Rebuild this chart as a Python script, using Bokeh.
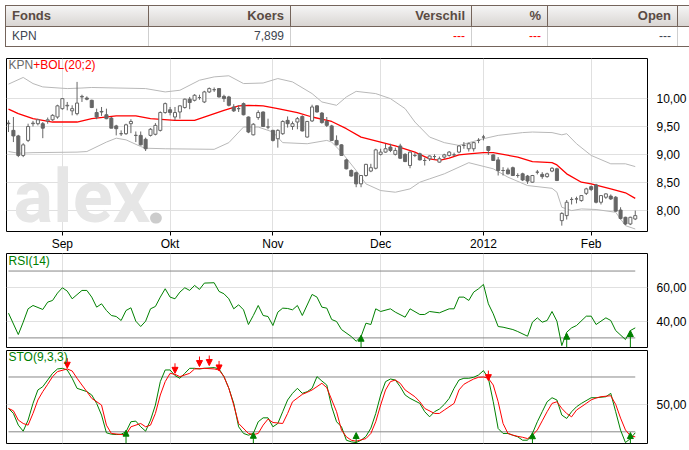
from bokeh.plotting import figure
from bokeh.models import (Range1d, FixedTicker, CustomJSTickFormatter, Label, Arrow,
                          NormalHead, ColumnDataSource, Div)
from bokeh.core.properties import value
from bokeh.layouts import column
from bokeh.embed import file_html
from bokeh.resources import INLINE

# ---------------- data ----------------
stock = "KPN"
koers = "7,899"
table_headers = ["Fonds", "Koers", "Verschil", "%", "Open"]

month_idx = [11, 33, 54, 76, 97, 119]
month_labels = ["Sep", "Okt", "Nov", "Dec", "2012", "Feb"]
price_ticks = [8.0, 8.5, 9.0, 9.5, 10.0]
rsi_ticks = [40, 60]
sto_ticks = [50]
rsi_levels = [30, 70]
sto_levels = [20, 80]

opens = [9.56, 9.43, 9.33, 8.98, 9.25, 9.55, 9.55, 9.55, 9.60, 9.62,
         9.67, 9.82, 9.87, 9.78, 9.73, 10.03, 10.01, 9.97, 9.75, 9.77,
         9.71, 9.65, 9.51, 9.37, 9.37, 9.55, 9.34, 9.34, 9.27, 9.34,
         9.36, 9.43, 9.75, 9.80, 9.67, 9.76, 9.84, 9.99, 9.97, 10.02,
         9.94, 10.12, 10.16, 10.18, 10.04, 10.03, 9.85, 9.82, 9.91, 9.67,
         9.35, 9.66, 9.76, 9.49, 9.43, 9.28, 9.37, 9.61, 9.50, 9.58,
         9.68, 9.31, 9.60, 9.87, 9.74, 9.59, 9.51, 9.25, 9.17, 8.90,
         8.71, 8.67, 8.47, 8.62, 8.70, 8.75, 9.00, 9.04, 9.13, 9.00,
         9.15, 9.00, 8.80, 8.98, 9.01, 8.89, 8.92, 8.96, 8.86, 8.95,
         8.98, 8.99, 9.04, 9.16, 9.10, 9.10, 9.25, 9.31, 9.14, 8.99,
         8.90, 8.71, 8.72, 8.76, 8.62, 8.65, 8.61, 8.50, 8.68, 8.64,
         8.60, 8.70, 8.74, 7.81, 7.90, 8.19, 8.20, 8.17, 8.30, 8.42,
         8.45, 8.14, 8.23, 8.25, 8.23, 8.00, 7.87, 7.75, 7.84]
highs = [9.61, 9.67, 9.35, 9.20, 9.55, 9.60, 9.64, 9.58, 9.66, 9.72,
         9.89, 10.01, 9.94, 9.88, 10.30, 10.07, 10.04, 9.98, 9.82, 9.85,
         9.82, 9.67, 9.53, 9.43, 9.55, 9.63, 9.41, 9.41, 9.30, 9.47,
         9.56, 9.77, 9.93, 9.85, 9.85, 9.88, 10.00, 10.03, 10.08, 10.07,
         10.14, 10.20, 10.20, 10.19, 10.07, 10.05, 9.90, 9.88, 9.93, 9.68,
         9.56, 9.79, 9.77, 9.64, 9.44, 9.45, 9.61, 9.68, 9.59, 9.67,
         9.70, 9.60, 9.89, 9.88, 9.76, 9.67, 9.53, 9.34, 9.18, 8.92,
         8.73, 8.69, 8.62, 8.83, 8.83, 9.10, 9.10, 9.19, 9.19, 9.12,
         9.19, 9.02, 9.05, 9.03, 9.03, 8.94, 8.98, 9.00, 8.96, 9.01,
         9.06, 9.03, 9.16, 9.22, 9.21, 9.22, 9.29, 9.35, 9.15, 9.00,
         8.95, 8.77, 8.76, 8.78, 8.66, 8.67, 8.63, 8.63, 8.72, 8.68,
         8.67, 8.77, 8.76, 7.96, 8.18, 8.23, 8.24, 8.27, 8.40, 8.44,
         8.47, 8.27, 8.30, 8.28, 8.25, 8.05, 7.88, 7.88, 7.99]
lows = [9.40, 9.22, 8.95, 8.95, 9.22, 9.50, 9.52, 9.29, 9.55, 9.60,
        9.64, 9.80, 9.79, 9.70, 9.70, 9.94, 9.97, 9.83, 9.63, 9.69,
        9.63, 9.47, 9.34, 9.33, 9.35, 9.38, 9.22, 9.16, 9.06, 9.32,
        9.34, 9.41, 9.73, 9.70, 9.61, 9.64, 9.82, 9.81, 9.95, 9.98,
        9.92, 10.10, 10.12, 10.02, 9.94, 9.86, 9.76, 9.76, 9.70, 9.38,
        9.34, 9.62, 9.49, 9.45, 9.23, 9.12, 9.35, 9.48, 9.44, 9.45,
        9.41, 9.30, 9.58, 9.75, 9.55, 9.49, 9.24, 9.16, 8.97, 8.73,
        8.60, 8.41, 8.41, 8.60, 8.68, 8.73, 8.98, 9.03, 9.04, 8.98,
        8.92, 8.86, 8.75, 8.95, 8.89, 8.80, 8.88, 8.90, 8.85, 8.92,
        8.96, 8.96, 9.02, 9.10, 9.05, 9.05, 9.20, 9.25, 8.99, 8.88,
        8.62, 8.62, 8.64, 8.61, 8.58, 8.52, 8.47, 8.49, 8.64, 8.56,
        8.58, 8.68, 8.52, 7.72, 7.83, 8.10, 8.12, 8.15, 8.27, 8.34,
        8.12, 8.10, 8.20, 8.18, 7.97, 7.83, 7.73, 7.73, 7.82]
closes = [9.55, 9.33, 8.98, 9.17, 9.50, 9.56, 9.62, 9.47, 9.62, 9.70,
          9.87, 10.00, 9.88, 9.82, 9.92, 10.04, 9.99, 9.84, 9.67, 9.76,
          9.64, 9.47, 9.46, 9.37, 9.53, 9.59, 9.34, 9.17, 9.10, 9.45,
          9.52, 9.75, 9.91, 9.75, 9.75, 9.87, 9.99, 9.93, 10.06, 10.02,
          10.12, 10.18, 10.16, 10.03, 10.00, 9.88, 9.78, 9.82, 9.71, 9.40,
          9.54, 9.75, 9.50, 9.49, 9.25, 9.43, 9.59, 9.55, 9.55, 9.64,
          9.42, 9.59, 9.85, 9.76, 9.57, 9.52, 9.25, 9.17, 8.98, 8.74,
          8.61, 8.47, 8.62, 8.82, 8.76, 9.08, 9.04, 9.10, 9.07, 9.07,
          8.93, 8.87, 9.04, 8.98, 8.90, 8.89, 8.97, 8.96, 8.92, 8.99,
          9.04, 8.99, 9.15, 9.16, 9.19, 9.21, 9.25, 9.31, 9.07, 8.89,
          8.71, 8.71, 8.65, 8.62, 8.62, 8.54, 8.52, 8.62, 8.68, 8.60,
          8.65, 8.75, 8.53, 7.94, 8.14, 8.19, 8.20, 8.26, 8.38, 8.37,
          8.14, 8.26, 8.29, 8.20, 7.98, 7.85, 7.75, 7.87, 7.90]

bol_up_x = [0, 3, 5, 7, 12, 15, 17, 28, 32, 35, 39, 42, 45, 48, 52, 55, 58, 62, 64, 67,
            69, 71, 75, 78, 81, 83, 86, 89, 92, 97, 100, 105, 107, 111, 113, 114, 116,
            119, 123, 126, 128]
bol_up = [10.26, 10.38, 10.27, 10.21, 10.18, 10.19, 10.20, 10.18, 10.12, 10.15, 10.33,
          10.39, 10.41, 10.27, 10.28, 10.36, 10.30, 10.09, 9.94, 9.88, 10.03, 10.13, 10.09,
          10.00, 9.82, 9.58, 9.31, 9.21, 9.16, 9.28, 9.34, 9.39, 9.40, 9.39, 9.35, 9.37,
          9.19, 8.98, 8.83, 8.83, 8.78]
bol_lo_x = [0, 2, 5, 14, 16, 20, 22, 24, 27, 28, 32, 42, 45, 48, 51, 54, 56, 61, 65, 66,
            68, 71, 73, 76, 79, 82, 84, 86, 89, 92, 94, 99, 102, 106, 111, 112, 113, 115,
            117, 120, 124, 125, 126, 128]
bol_lo = [9.05, 9.02, 9.03, 9.04, 9.05, 9.22, 9.29, 9.26, 9.14, 9.11, 9.10, 9.09, 9.21,
          9.49, 9.49, 9.40, 9.21, 9.19, 9.25, 9.22, 9.04, 8.71, 8.47, 8.35, 8.32, 8.38,
          8.50, 8.56, 8.65, 8.77, 8.85, 8.74, 8.59, 8.44, 8.39, 8.32, 8.05, 7.99, 8.02,
          8.01, 7.96, 7.84, 7.72, 7.66]
bol_mid_x = [0, 2, 5, 9, 14, 17, 22, 26, 29, 34, 38, 41, 44, 47, 49, 52, 55, 59, 62, 66,
             69, 72, 76, 79, 83, 86, 88, 90, 92, 94, 97, 99, 104, 107, 111, 112, 114, 117,
             119, 123, 126, 128]
bol_mid = [9.81, 9.73, 9.64, 9.58, 9.58, 9.64, 9.69, 9.69, 9.64, 9.61, 9.61, 9.70, 9.79,
           9.87, 9.88, 9.87, 9.82, 9.75, 9.67, 9.59, 9.46, 9.31, 9.22, 9.15, 9.04, 8.92,
           8.89, 8.93, 8.99, 9.01, 9.03, 9.03, 8.95, 8.87, 8.85, 8.81, 8.65, 8.50, 8.47,
           8.38, 8.31, 8.21]

rsi_x = [0, 2, 3, 4, 5, 7, 8, 9, 10, 11, 12, 13, 15, 16, 17, 18, 19, 20, 21, 22, 23, 24,
         25, 26, 27, 28, 29, 30, 31, 32, 33, 34, 35, 36, 37, 38, 39, 40, 42, 43, 44, 45,
         46, 47, 48, 49, 50, 51, 52, 53, 54, 55, 56, 57, 58, 59, 60, 62, 63, 64, 65, 66,
         67, 68, 70, 71, 72, 73, 74, 75, 76, 78, 79, 81, 82, 84, 85, 86, 88, 90, 91, 92,
         93, 94, 95, 96, 97, 98, 99, 100, 101, 103, 104, 106, 107, 108, 109, 110, 111,
         112, 113, 114, 115, 116, 118, 119, 120, 122, 123, 124, 126, 127, 128]
rsi = [44.8, 32.0, 39.4, 47.4, 49.4, 47.0, 51.4, 52.4, 56.8, 60.0, 58.0, 53.4, 58.4,
       58.4, 54.4, 48.4, 50.4, 46.4, 43.4, 42.8, 40.4, 46.4, 48.0, 40.0, 36.8, 40.0,
       47.4, 48.8, 54.4, 59.4, 54.4, 53.4, 57.4, 60.0, 58.4, 61.4, 59.0, 62.8, 63.0,
       57.8, 56.4, 53.4, 47.4, 49.8, 46.8, 38.0, 43.4, 49.4, 43.4, 42.8, 37.4, 45.4,
       47.8, 47.6, 46.8, 49.4, 43.4, 56.0, 54.4, 48.4, 47.8, 41.0, 39.8, 35.0, 30.8,
       28.0, 30.8, 38.8, 38.0, 47.4, 45.8, 47.4, 45.4, 42.4, 47.4, 44.0, 44.0, 45.8,
       45.0, 47.4, 47.4, 54.4, 54.4, 52.4, 57.4, 59.4, 62.0, 50.4, 44.4, 36.8, 36.4,
       35.0, 33.8, 31.0, 39.4, 42.0, 39.4, 40.4, 45.8, 40.0, 25.4, 33.4, 36.0, 37.4,
       43.0, 43.0, 38.0, 42.0, 40.4, 34.4, 29.0, 34.4, 36.0]

sto_k_x = [0, 1, 2, 3, 4, 5, 6, 7, 8, 9, 10, 11, 12, 13, 14, 16, 17, 18, 19, 20, 21, 22,
           23, 24, 25, 26, 27, 28, 29, 30, 31, 32, 33, 34, 35, 36, 37, 38, 39, 40, 42, 43,
           44, 45, 46, 47, 48, 49, 50, 51, 52, 53, 54, 55, 56, 57, 58, 59, 60, 61, 62, 63,
           64, 65, 66, 67, 68, 69, 70, 71, 72, 73, 74, 75, 76, 77, 78, 79, 80, 81, 82, 84,
           85, 86, 87, 88, 89, 90, 91, 92, 93, 94, 95, 96, 97, 98, 99, 100, 101, 102, 103,
           104, 105, 106, 107, 108, 109, 110, 111, 112, 113, 114, 115, 116, 117, 119, 120,
           122, 123, 124, 125, 126, 127, 128]
sto_k = [45.6, 40.1, 27.3, 20.7, 32.8, 51.1, 65.8, 69.4, 76.7, 84.0, 88.8, 89.5, 87.7,
         78.6, 67.6, 64.0, 60.3, 51.1, 38.3, 18.9, 17.4, 17.0, 17.4, 20.0, 31.0, 31.7,
         25.5, 20.7, 32.8, 49.3, 74.9, 87.7, 87.7, 81.5, 78.6, 84.0, 89.5, 89.5, 88.8,
         89.5, 90.3, 88.8, 80.4, 67.6, 51.1, 25.5, 18.2, 16.3, 18.2, 31.0, 35.3, 35.3,
         25.5, 29.1, 42.0, 54.8, 62.1, 67.6, 62.1, 63.9, 67.6, 80.4, 75.6, 71.2, 47.4,
         31.0, 25.5, 10.8, 9.0, 8.2, 10.8, 15.0, 24.0, 40.0, 60.3, 74.9, 77.8, 76.7,
         69.4, 60.3, 56.6, 51.1, 42.0, 36.4, 42.0, 44.9, 50.0, 56.6, 67.6, 76.7, 78.6,
         78.6, 79.7, 82.2, 87.0, 78.6, 52.9, 23.6, 18.2, 18.2, 16.3, 14.5, 10.8, 10.8,
         18.2, 31.0, 42.0, 52.9, 57.3, 54.8, 38.3, 34.6, 42.0, 47.4, 51.1, 57.3, 57.3,
         58.4, 62.1, 42.0, 21.8, 8.2, 12.6, 18.9]

sto_d_x = [0, 1, 2, 3, 4, 5, 6, 7, 8, 9, 10, 12, 13, 14, 15, 16, 17, 19, 20, 21, 23, 24,
           25, 27, 28, 29, 30, 31, 32, 33, 34, 35, 37, 38, 40, 42, 43, 44, 45, 46, 47, 49,
           50, 51, 52, 53, 54, 56, 57, 58, 60, 61, 62, 64, 65, 67, 68, 69, 70, 71, 73, 74,
           75, 76, 77, 78, 79, 80, 81, 83, 84, 85, 87, 88, 89, 91, 92, 93, 94, 95, 96, 97,
           98, 99, 100, 101, 102, 103, 104, 105, 106, 107, 108, 109, 110, 111, 112, 113,
           114, 115, 116, 118, 119, 120, 121, 123, 124, 125, 126, 127, 128]
sto_d = [45.6, 43.0, 32.8, 29.1, 27.3, 40.1, 54.8, 64.0, 72.0, 80.4, 85.9, 88.8, 86.6,
         78.6, 71.2, 64.0, 56.6, 49.3, 27.3, 18.2, 17.0, 17.0, 25.5, 29.1, 25.5, 27.3,
         40.1, 60.3, 74.9, 84.0, 82.9, 80.4, 84.0, 88.8, 89.5, 88.8, 87.7, 80.4, 67.6,
         49.3, 29.1, 18.2, 17.0, 18.2, 27.3, 33.9, 30.2, 29.1, 40.1, 52.9, 61.0, 63.2,
         65.8, 73.1, 68.3, 42.0, 22.0, 14.5, 10.8, 9.7, 12.6, 18.2, 31.0, 49.3, 65.8,
         74.9, 76.7, 73.1, 65.8, 58.4, 52.9, 45.6, 40.1, 40.1, 43.8, 51.1, 65.8, 72.0,
         75.0, 77.8, 79.7, 80.0, 78.6, 71.2, 52.9, 29.1, 18.2, 16.3, 15.0, 14.0, 12.6,
         16.3, 22.0, 32.0, 42.0, 51.1, 52.9, 45.6, 40.0, 36.4, 43.8, 51.1, 55.0, 57.0,
         58.4, 59.5, 50.0, 35.0, 22.0, 15.6, 14.5]

rsi_buy_idx = [72, 114, 127]
rsi_buy_tip = [31.6, 32.8, 34.4]
sto_buy_idx = [24, 50, 71, 107, 127]
sto_buy_tip = [21.8, 19.5, 19.2, 19.0, 19.2]
sto_sell_idx = [12, 34, 39, 41, 43, 98]
sto_sell_tip = [89.6, 84.0, 91.4, 92.5, 86.6, 76.0]

# ---------------- styling ----------------
FONT = "Liberation Sans"
GRID = "#e0e0e0"
CANDLE = "#666666"
GREEN = "#008000"
RED = "#ff0000"
FW = 641
XR = (-0.41, 130.5)


def px_to_data(fig, fh, rx, ry):
    xr, yr = fig.x_range, fig.y_range
    return (xr.start + rx * (xr.end - xr.start) / FW,
            yr.end - ry * (yr.end - yr.start) / fh)


def base_fig(fh, yr, top, bottom, xaxis):
    f = figure(frame_width=FW, frame_height=fh, x_range=Range1d(*XR), y_range=Range1d(*yr),
               output_backend="svg", toolbar_location=None, y_axis_location="right",
               x_axis_location="below" if xaxis else None,
               min_border_left=1, min_border_right=42, min_border_top=top,
               min_border_bottom=bottom)
    f.outline_line_color = "black"
    f.outline_line_width = 1
    f.background_fill_color = "white"
    f.border_fill_color = "white"
    f.xgrid.ticker = FixedTicker(ticks=month_idx)
    f.xgrid.grid_line_color = GRID
    f.ygrid.grid_line_color = GRID
    ya = f.yaxis[0]
    ya.axis_line_color = None
    ya.major_tick_line_color = None
    ya.minor_tick_line_color = None
    ya.major_label_standoff = 3
    ya.major_label_text_font = FONT
    ya.major_label_text_font_size = "12px"
    ya.major_label_text_color = "black"
    ya.formatter = CustomJSTickFormatter(code="return tick.toFixed(2).replace('.', ',');")
    return f


# ---------------- main price panel ----------------
MH = 173
p = base_fig(MH, (7.615, 10.72), 3, 19, True)
p.yaxis.ticker = FixedTicker(ticks=price_ticks)
p.ygrid.ticker = FixedTicker(ticks=price_ticks)
xa = p.xaxis[0]
xa.ticker = FixedTicker(ticks=month_idx)
xa.major_label_overrides = {k: v for k, v in zip(month_idx, month_labels)}
xa.axis_line_color = None
xa.major_tick_out = 4
xa.major_tick_in = 0
xa.major_tick_line_color = "black"
xa.minor_tick_line_color = None
xa.major_label_standoff = 1
xa.major_label_text_font = FONT
xa.major_label_text_font_size = "12px"
xa.major_label_text_color = "black"

# watermark (frame-relative pixel anchors, compensated for the renderer's baseline)
wx, wy = px_to_data(p, MH, 7, 138.0)
p.text(x=[wx], y=[wy], text=["alex"], text_font=value("Roboto"), text_font_style="bold",
       text_font_size=value("74px"), text_color="#e6e6e6", text_baseline="alphabetic",
       text_line_height=1.0)
dx, dy = px_to_data(p, MH, 139, 138.0)
p.text(x=[dx], y=[dy], text=["."], text_font=value("Roboto"), text_font_style="bold",
       text_font_size=value("74px"), text_color="#cccccc", text_baseline="alphabetic",
       text_line_height=1.0)

p.line(bol_up_x, bol_up, line_color="#b8b8b8", line_width=1)
p.line(bol_lo_x, bol_lo, line_color="#b8b8b8", line_width=1)
p.line(bol_mid_x, bol_mid, line_color=RED, line_width=1.3)

idx = list(range(len(closes)))
src = ColumnDataSource(dict(x=idx, o=opens, h=highs, l=lows, c=closes))
up = [i for i in idx if closes[i] >= opens[i]]
dn = [i for i in idx if closes[i] < opens[i]]
src_up = ColumnDataSource(dict(x=up, top=[closes[i] for i in up], bot=[opens[i] for i in up]))
src_dn = ColumnDataSource(dict(x=dn, top=[opens[i] for i in dn], bot=[closes[i] for i in dn]))
p.segment(x0="x", x1="x", y0="l", y1="h", source=src, line_color=CANDLE, line_width=1)
p.vbar(x="x", top="top", bottom="bot", width=0.62, source=src_dn, fill_color=CANDLE,
       line_color=CANDLE, line_width=1)
p.vbar(x="x", top="top", bottom="bot", width=0.62, source=src_up, fill_color="white",
       line_color=CANDLE, line_width=1)

lx, ly = px_to_data(p, MH, 2, -0.5)
p.add_layout(Label(x=lx, y=ly, text=stock, text_font=FONT, text_font_size="12px",
                   text_color="#6a6a6a", text_baseline="top"))
lx2, _ = px_to_data(p, MH, 26.7, -0.5)
p.add_layout(Label(x=lx2, y=ly, text="+BOL(20;2)", text_font=FONT, text_font_size="12px",
                   text_color=RED, text_baseline="top"))

# ---------------- RSI panel ----------------
RH = 94
r = base_fig(RH, (24.25, 80.5), 0, 1, False)
r.yaxis.ticker = FixedTicker(ticks=rsi_ticks)
r.ygrid.ticker = FixedTicker(ticks=rsi_ticks)
r.segment(x0=[idx[0]] * 2, x1=[idx[-1]] * 2, y0=rsi_levels, y1=rsi_levels,
          line_color="#888888", line_width=1)
r.line(rsi_x, rsi, line_color=GREEN, line_width=1)
ys = r.y_range.start
r.add_layout(Arrow(end=NormalHead(size=6, fill_color=GREEN, line_color=GREEN, line_width=1),
                   x_start="x", y_start="y0", x_end="x", y_end="y1",
                   source=ColumnDataSource(dict(x=rsi_buy_idx, y0=[ys] * len(rsi_buy_idx),
                                                y1=rsi_buy_tip)),
                   line_color=GREEN, line_width=1))
rx_, ry_ = px_to_data(r, RH, 2, 0.0)
r.add_layout(Label(x=rx_, y=ry_, text="RSI(14)", text_font=FONT, text_font_size="12px",
                   text_color=GREEN, text_baseline="top"))

# ---------------- STO panel ----------------
SH = 93
s = base_fig(SH, (7.2, 109.0), 2, 1, False)
s.yaxis.ticker = FixedTicker(ticks=sto_ticks)
s.ygrid.ticker = FixedTicker(ticks=sto_ticks)
s.segment(x0=[idx[0]] * 2, x1=[idx[-1]] * 2, y0=sto_levels, y1=sto_levels,
          line_color="#888888", line_width=1)
s.line(sto_k_x, sto_k, line_color=GREEN, line_width=1)
s.line(sto_d_x, sto_d, line_color=RED, line_width=1)
ss = s.y_range.start
s.add_layout(Arrow(end=NormalHead(size=6, fill_color=GREEN, line_color=GREEN, line_width=1),
                   x_start="x", y_start="y0", x_end="x", y_end="y1",
                   source=ColumnDataSource(dict(x=sto_buy_idx, y0=[ss] * len(sto_buy_idx),
                                                y1=sto_buy_tip)),
                   line_color=GREEN, line_width=1))
s.add_layout(Arrow(end=NormalHead(size=6, fill_color=RED, line_color=RED, line_width=1),
                   x_start="x", y_start="y0", x_end="x", y_end="y1",
                   source=ColumnDataSource(dict(x=sto_sell_idx,
                                                y0=[t + 11 for t in sto_sell_tip],
                                                y1=sto_sell_tip)),
                   line_color=RED, line_width=1))
sx_, sy_ = px_to_data(s, SH, 2, -1.0)
s.add_layout(Label(x=sx_, y=sy_, text="STO(9,3,3)", text_font=FONT, text_font_size="12px",
                   text_color=GREEN, text_baseline="top"))

# ---------------- table ----------------
col_w = [143, 142, 181, 76, 130, 60]
hdr_style = ("border:1px solid #74645b;padding:0 6px;font-family:'Liberation Sans',"
             "Arial,sans-serif;font-weight:bold;font-size:13px;color:#5a4b43;")
cell_style = ("border-left:1px solid #cfcfcf;border-right:1px solid #cfcfcf;"
              "border-bottom:1px solid #74645b;padding:0 6px;"
              "font-family:'Liberation Sans',Arial,sans-serif;font-size:12px;color:#404550;")
heads = "".join(
    f"<th style=\"{hdr_style}text-align:{'left' if i == 0 else 'right'};\">{h}</th>"
    for i, h in enumerate(table_headers)) + f"<th style=\"{hdr_style}\"></th>"
row_vals = [(stock, "left", "#404550"), (koers, "right", "#404550"),
            ("---", "right", "#ff0000"), ("---", "right", "#ff0000"),
            ("---", "right", "#404550"), ("", "right", "#404550")]
cells = "".join(
    f"<td style=\"{cell_style}text-align:{al};color:{c};\">{t}</td>" for t, al, c in row_vals)
cells = cells.replace("border-left:1px solid #cfcfcf;", "border-left:1px solid #74645b;", 1)
cols = "".join(f"<col style=\"width:{w}px\">" for w in col_w)
html = (
    "<div style=\"width:684px;height:50px;overflow:hidden;\">"
    "<table style=\"border-collapse:collapse;table-layout:fixed;width:732px;\">"
    f"<colgroup>{cols}</colgroup>"
    "<tr style=\"height:21px;background:linear-gradient(#f5f5f5,#d8d4d1);\">"
    f"{heads}</tr>"
    f"<tr style=\"height:20px;background:white;\">{cells}</tr>"
    "</table></div>"
)
div = Div(text=html, width=684, height=50, margin=0)

layout = column(div, p, r, s, spacing=0, margin=(5, 0, 0, 5))

with open("out.html", "w") as fh:
    fh.write(file_html(layout, INLINE))
